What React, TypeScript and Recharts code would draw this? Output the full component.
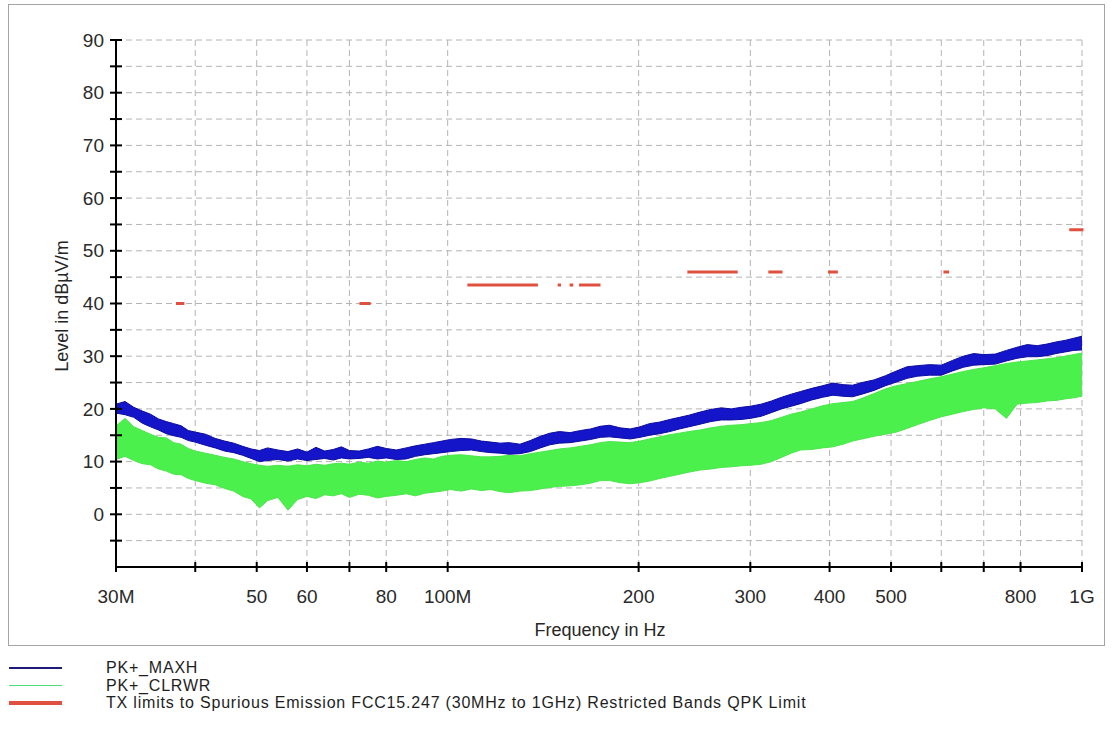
import React from "react";
import { ComposedChart, Area, Line, XAxis, YAxis, CartesianGrid } from "recharts";

const FONT = "'Liberation Sans', Arial, Helvetica, sans-serif";

// sweep frequencies, MHz
const freqMHz = [
  30, 31, 32, 33, 34, 35, 36, 37, 38, 39, 40, 41.5, 43, 44.5, 46, 47.5, 49, 50.5, 52, 54,
  56, 58, 60, 62, 64, 66, 68, 70, 72.5, 75, 77.5, 80, 83, 86, 89, 92, 95, 98, 101, 105,
  109, 113, 117, 121, 125, 130, 135, 140, 145, 150, 156, 162, 168, 174, 180, 187, 194, 201, 208, 216,
  224, 232, 240, 250, 260, 270, 280, 290, 300, 312, 324, 336, 348, 360, 375, 390, 405, 420, 435, 450,
  470, 490, 510, 530, 550, 575, 600, 625, 650, 675, 700, 730, 760, 790, 820, 850, 880, 910, 940, 970, 1000,
];

// PK+_MAXH trace envelope, dBµV/m
const maxhLow = [
  19.2, 18.9, 18.4, 17.3, 16.6, 16.0, 15.3, 14.9, 14.6, 14.0, 13.7, 13.1, 12.6, 12.0, 11.7, 11.2, 10.6, 10.0, 10.2, 10.4,
  10.1, 10.5, 10.2, 10.4, 10.6, 10.3, 10.7, 10.5, 10.6, 10.8, 10.5, 10.7, 10.4, 10.5, 11.0, 11.3, 11.5, 11.7, 11.9, 12.1,
  12.2, 11.9, 11.7, 11.6, 11.4, 11.5, 11.9, 12.6, 13.2, 13.5, 13.6, 13.9, 14.2, 14.6, 14.7, 14.5, 14.3, 14.6, 15.0, 15.3,
  15.7, 16.2, 16.6, 17.1, 17.6, 17.9, 17.9, 18.0, 18.2, 18.6, 19.3, 20.0, 20.5, 21.0, 21.7, 22.2, 22.6, 22.4, 22.3, 22.8,
  23.5, 24.4, 25.1, 25.8, 26.2, 26.4, 26.4, 27.2, 27.9, 28.3, 28.4, 28.5, 29.1, 29.6, 29.9, 29.9, 30.1, 30.5, 30.8, 31.1, 31.2,
];
const maxhHigh = [
  20.9, 21.4, 20.3, 19.6, 19.0, 18.1, 17.6, 17.2, 16.8, 15.9, 15.6, 15.2, 14.4, 13.9, 13.5, 12.9, 12.4, 12.1, 12.6, 12.2,
  11.9, 12.4, 11.8, 12.7, 12.0, 12.3, 12.8, 12.1, 12.0, 12.4, 12.9, 12.5, 12.2, 12.6, 13.0, 13.3, 13.6, 13.9, 14.2, 14.4,
  14.3, 13.9, 13.7, 13.5, 13.6, 13.3, 14.0, 14.8, 15.4, 15.7, 15.5, 15.9, 16.2, 16.7, 16.9, 16.4, 16.2, 16.6, 17.2, 17.5,
  18.0, 18.4, 18.8, 19.4, 19.9, 20.2, 20.0, 20.3, 20.5, 20.9, 21.5, 22.2, 22.8, 23.3, 23.9, 24.4, 24.9, 24.6, 24.5, 25.0,
  25.5, 26.3, 27.2, 28.0, 28.2, 28.4, 28.3, 29.2, 30.0, 30.5, 30.3, 30.4, 31.1, 31.7, 32.2, 32.0, 32.3, 32.7, 33.0, 33.4, 33.8,
];

// PK+_CLRWR trace envelope, dBµV/m
const clrwrLow = [
  10.4, 11.0, 10.2, 9.6, 9.4, 8.6, 8.2, 7.6, 7.5, 6.8, 6.4, 5.9, 5.6, 4.9, 4.4, 3.4, 2.9, 1.2, 2.6, 3.2,
  0.8, 2.8, 3.4, 3.0, 3.7, 3.5, 3.9, 3.2, 3.8, 3.6, 3.1, 3.4, 3.6, 3.9, 3.5, 4.0, 4.2, 4.4, 4.7, 4.4,
  4.8, 4.5, 4.7, 4.3, 4.1, 4.4, 4.5, 4.8, 5.1, 5.3, 5.4, 5.6, 5.9, 6.4, 6.4, 6.0, 5.8, 6.0, 6.3, 6.8,
  7.2, 7.6, 8.0, 8.4, 8.6, 8.9, 9.0, 9.2, 9.3, 9.5, 10.0, 10.8, 11.6, 12.2, 12.3, 12.6, 12.8, 13.3, 13.9, 14.3,
  14.8, 15.2, 15.6, 16.3, 17.0, 17.8, 18.5, 19.0, 19.5, 19.9, 20.2, 20.0, 18.2, 20.9, 21.1, 21.2, 21.5, 21.6, 21.9, 22.1, 22.4,
];
const clrwrHigh = [
  16.8, 18.2, 16.6, 15.9, 15.2, 14.6, 14.5, 13.6, 13.3, 12.5, 12.0, 11.6, 11.2, 10.8, 10.5, 10.0, 9.6, 9.3, 9.1, 9.3,
  9.1, 9.4, 9.2, 9.5, 9.3, 9.6, 9.7, 9.5, 9.9, 9.7, 10.1, 9.9, 10.2, 10.0, 10.4, 10.7, 10.5, 11.0, 11.2, 11.3,
  11.1, 10.9, 10.9, 11.0, 11.2, 11.1, 11.5, 11.8, 12.1, 12.4, 12.6, 12.9, 13.2, 13.6, 13.8, 13.7, 13.6, 13.9, 14.3, 14.7,
  15.1, 15.4, 15.7, 16.0, 16.4, 16.7, 16.9, 17.0, 17.2, 17.4, 17.8, 18.4, 19.0, 19.4, 20.0, 20.6, 21.0, 21.2, 21.4, 22.0,
  22.9, 23.8, 24.4, 24.8, 25.2, 25.7, 26.1, 26.6, 27.1, 27.5, 27.8, 28.2, 28.6, 28.9, 29.1, 29.3, 29.5, 29.7, 30.0, 30.3, 30.6,
];

// restricted bands (MHz) with their QPK limit, dBµV/m
const bandStart = [37.5, 73, 74.8, 108, 123, 149.9, 156.52475, 156.7, 162.0125, 167.72, 240, 322, 399.9, 608, 960];
const bandEnd = [38.25, 74.6, 75.2, 121.94, 138, 150.05, 156.52525, 156.9, 167.17, 173.2, 285, 335.4, 410, 614, 1000];
const bandLimit = [40, 40, 40, 43.5, 43.5, 43.5, 43.5, 43.5, 43.5, 43.5, 46, 46, 46, 46, 54];

const xTicks = [30, 40, 50, 60, 70, 80, 100, 200, 300, 400, 500, 600, 700, 800, 1000];
const xTickLabels = ["30M", "", "50", "60", "", "80", "100M", "200", "300", "400", "500", "", "", "800", "1G"];
const yTicks = [-5, 0, 5, 10, 15, 20, 25, 30, 35, 40, 45, 50, 55, 60, 65, 70, 75, 80, 85, 90];

const chartData = freqMHz.map((f, i) => ({
  f,
  maxh: [maxhLow[i], maxhHigh[i]],
  clrwr: [clrwrLow[i], clrwrHigh[i]],
}));

// each band is a flat segment, broken by a null point after it
const limitData = bandStart.flatMap((s, i) => [
  { f: s, limit: bandLimit[i] },
  { f: bandEnd[i], limit: bandLimit[i] },
  { f: bandEnd[i], limit: null },
]);

const TICK_FONT = 19;

const FreqTick = (props: any) => {
  const { x, y, payload } = props;
  const label = xTickLabels[xTicks.indexOf(payload.value)] ?? "";
  return (
    <g>
      <line x1={x} x2={x} y1={y - 34} y2={y - 24} stroke="#000" strokeWidth={2} />
      {label && (
        <text x={x} y={y} dy="0.35em" textAnchor="middle" fill="#2a2a2a" fontSize={TICK_FONT} fontFamily={FONT}>
          {label}
        </text>
      )}
    </g>
  );
};

const LevelTick = (props: any) => {
  const { x, y, payload } = props;
  const v = payload.value;
  return (
    <g>
      <line x1={x + 6} x2={x + 18} y1={y} y2={y} stroke="#000" strokeWidth={2} />
      {v % 10 === 0 && (
        <text x={x} y={y} dy="0.35em" textAnchor="end" fill="#2a2a2a" fontSize={TICK_FONT} fontFamily={FONT}>
          {v}
        </text>
      )}
    </g>
  );
};

const legendRows = [
  { name: "PK+_MAXH", color: "#1c1c78", width: 2 },
  { name: "PK+_CLRWR", color: "#4cdc78", width: 1 },
  { name: "TX limits to Spurious Emission FCC15.247 (30MHz to 1GHz) Restricted Bands QPK Limit", color: "#e0503e", width: 4 },
];

export default function App() {
  return (
    <div style={{ position: "absolute", left: 0, top: 0, width: 1113, height: 754, background: "#fff", fontFamily: FONT }}>
      <div
        style={{
          position: "absolute",
          left: 8,
          top: 4,
          width: 1097,
          height: 642,
          boxSizing: "border-box",
          border: "1px solid #a4a4a4",
        }}
      />
      <div style={{ position: "absolute", left: 0, top: 0 }}>
        <ComposedChart width={1113} height={650} data={chartData} margin={{ top: 40, right: 31, bottom: 0, left: 0 }}>
          <CartesianGrid stroke="#b4b4b4" strokeDasharray="6 4" />
          <XAxis
            dataKey="f"
            type="number"
            scale="log"
            domain={[30, 1000]}
            ticks={xTicks}
            interval={0}
            height={83}
            tickSize={0}
            tickMargin={29}
            tick={<FreqTick />}
            axisLine={{ stroke: "#000", strokeWidth: 2 }}
          />
          <YAxis
            type="number"
            domain={[-10, 90]}
            ticks={yTicks}
            interval={0}
            width={116}
            tickSize={0}
            tickMargin={12}
            tick={<LevelTick />}
            axisLine={{ stroke: "#000", strokeWidth: 2 }}
          />
          <Area
            type="linear"
            dataKey="clrwr"
            stroke="#4be64b"
            strokeWidth={1}
            fill="#4cf04c"
            fillOpacity={1}
            isAnimationActive={false}
          />
          <Area
            type="linear"
            dataKey="maxh"
            stroke="#0c0ca0"
            strokeWidth={1}
            fill="#1414c8"
            fillOpacity={1}
            isAnimationActive={false}
          />
          <Line
            data={limitData}
            dataKey="limit"
            type="linear"
            stroke="#e0503e"
            strokeWidth={3}
            strokeLinecap="square"
            dot={false}
            activeDot={false}
            connectNulls={false}
            isAnimationActive={false}
          />
        </ComposedChart>
      </div>

      <div
        style={{
          position: "absolute",
          left: 62 - 150,
          top: 306 - 12,
          width: 300,
          height: 24,
          lineHeight: "24px",
          textAlign: "center",
          transform: "rotate(-90deg)",
          fontSize: 18,
          color: "#262626",
        }}
      >
        Level in dBµV/m
      </div>
      <div
        style={{
          position: "absolute",
          left: 450,
          top: 618,
          width: 300,
          height: 24,
          lineHeight: "24px",
          textAlign: "center",
          fontSize: 18,
          color: "#262626",
        }}
      >
        Frequency in Hz
      </div>

      {legendRows.map((row, i) => (
        <div
          key={row.name}
          style={{ position: "absolute", left: 0, top: Math.round(659 + i * 17.5), height: 17, width: 1100 }}
        >
          <div
            style={{
              position: "absolute",
              left: 9,
              top: Math.round(8.5 - row.width / 2),
              width: 53,
              height: row.width,
              background: row.color,
            }}
          />
          <div
            style={{
              position: "absolute",
              left: 106,
              top: 0,
              lineHeight: "17px",
              fontSize: 16,
              letterSpacing: 0.8,
              color: "#1e1e1e",
              whiteSpace: "nowrap",
            }}
          >
            {row.name}
          </div>
        </div>
      ))}
    </div>
  );
}
